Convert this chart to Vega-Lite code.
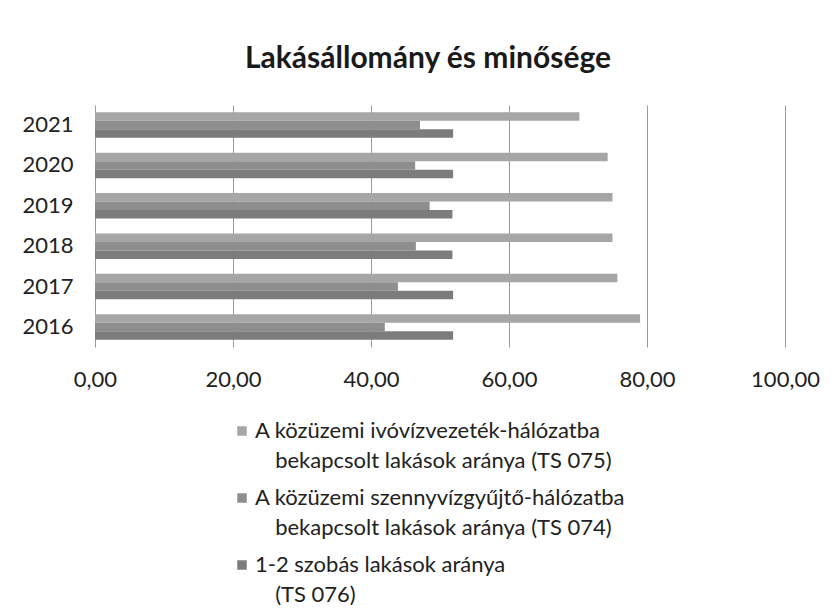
{
  "$schema": "https://vega.github.io/schema/vega-lite/v6.json",
  "autosize": "none",
  "width": 690,
  "height": 242,
  "padding": {"left": 95, "top": 105, "right": 50, "bottom": 266},
  "background": "white",
  "title": {
    "text": "Lakásállomány és minősége",
    "font": "Lato",
    "fontSize": 30,
    "fontWeight": "bold",
    "color": "#1a1a1a",
    "anchor": "middle",
    "dx": -12,
    "offset": 31
  },
  "data": {
    "values": [
      {"year": "2021", "series": "A közüzemi ivóvízvezeték-hálózatba bekapcsolt lakások aránya (TS 075)", "value": 70.2},
      {"year": "2021", "series": "A közüzemi szennyvízgyűjtő-hálózatba bekapcsolt lakások aránya (TS 074)", "value": 47.1},
      {"year": "2021", "series": "1-2 szobás lakások aránya (TS 076)", "value": 51.9},
      {"year": "2020", "series": "A közüzemi ivóvízvezeték-hálózatba bekapcsolt lakások aránya (TS 075)", "value": 74.3},
      {"year": "2020", "series": "A közüzemi szennyvízgyűjtő-hálózatba bekapcsolt lakások aránya (TS 074)", "value": 46.4},
      {"year": "2020", "series": "1-2 szobás lakások aránya (TS 076)", "value": 51.9},
      {"year": "2019", "series": "A közüzemi ivóvízvezeték-hálózatba bekapcsolt lakások aránya (TS 075)", "value": 75.0},
      {"year": "2019", "series": "A közüzemi szennyvízgyűjtő-hálózatba bekapcsolt lakások aránya (TS 074)", "value": 48.5},
      {"year": "2019", "series": "1-2 szobás lakások aránya (TS 076)", "value": 51.8},
      {"year": "2018", "series": "A közüzemi ivóvízvezeték-hálózatba bekapcsolt lakások aránya (TS 075)", "value": 75.0},
      {"year": "2018", "series": "A közüzemi szennyvízgyűjtő-hálózatba bekapcsolt lakások aránya (TS 074)", "value": 46.5},
      {"year": "2018", "series": "1-2 szobás lakások aránya (TS 076)", "value": 51.8},
      {"year": "2017", "series": "A közüzemi ivóvízvezeték-hálózatba bekapcsolt lakások aránya (TS 075)", "value": 75.7},
      {"year": "2017", "series": "A közüzemi szennyvízgyűjtő-hálózatba bekapcsolt lakások aránya (TS 074)", "value": 43.9},
      {"year": "2017", "series": "1-2 szobás lakások aránya (TS 076)", "value": 51.9},
      {"year": "2016", "series": "A közüzemi ivóvízvezeték-hálózatba bekapcsolt lakások aránya (TS 075)", "value": 79.0},
      {"year": "2016", "series": "A közüzemi szennyvízgyűjtő-hálózatba bekapcsolt lakások aránya (TS 074)", "value": 42.0},
      {"year": "2016", "series": "1-2 szobás lakások aránya (TS 076)", "value": 51.9}
    ]
  },
  "mark": {"type": "bar"},
  "encoding": {
    "y": {
      "field": "year",
      "type": "nominal",
      "sort": "descending",
      "scale": {"paddingInner": 0.37, "paddingOuter": 0.18},
      "axis": {
        "title": null,
        "domain": false,
        "ticks": false,
        "labelFont": "Lato",
        "labelFontSize": 22,
        "labelColor": "#222222",
        "labelPadding": 22
      }
    },
    "yOffset": {
      "field": "series",
      "type": "nominal",
      "sort": [
        "A közüzemi ivóvízvezeték-hálózatba bekapcsolt lakások aránya (TS 075)",
        "A közüzemi szennyvízgyűjtő-hálózatba bekapcsolt lakások aránya (TS 074)",
        "1-2 szobás lakások aránya (TS 076)"
      ],
      "scale": {"paddingInner": 0, "paddingOuter": 0}
    },
    "x": {
      "field": "value",
      "type": "quantitative",
      "scale": {"domain": [0, 100]},
      "axis": {
        "title": null,
        "values": [0, 20, 40, 60, 80, 100],
        "labelExpr": "replace(format(datum.value, '.2f'), '.', ',')",
        "labelFont": "Lato",
        "labelFontSize": 22,
        "labelColor": "#222222",
        "labelPadding": 22,
        "labelFlush": false,
        "labelOverlap": false,
        "domain": false,
        "ticks": false,
        "grid": true,
        "gridColor": "#9a9a9a",
        "gridWidth": 1
      }
    },
    "color": {
      "field": "series",
      "type": "nominal",
      "sort": [
        "A közüzemi ivóvízvezeték-hálózatba bekapcsolt lakások aránya (TS 075)",
        "A közüzemi szennyvízgyűjtő-hálózatba bekapcsolt lakások aránya (TS 074)",
        "1-2 szobás lakások aránya (TS 076)"
      ],
      "scale": {"range": ["#a6a6a6", "#8e8e8e", "#7c7c7c"]},
      "legend": {
        "title": null,
        "orient": "none",
        "legendX": 136,
        "legendY": 315,
        "direction": "vertical",
        "symbolType": "square",
        "symbolSize": 90,
        "symbolStrokeWidth": 0,
        "labelFont": "Lato",
        "labelFontSize": 22,
        "labelColor": "#222222",
        "labelLimit": 600,
        "labelOffset": 2,
        "rowPadding": 15,
        "labelExpr": "indexof(datum.label, 'ivóvíz') >= 0 ? ['A közüzemi ivóvízvezeték-hálózatba', '\\u200b\\u2002\\u2005\\u2006bekapcsolt lakások aránya (TS 075)'] : indexof(datum.label, 'szenny') >= 0 ? ['A közüzemi szennyvízgyűjtő-hálózatba', '\\u200b\\u2002\\u2005\\u2006bekapcsolt lakások aránya (TS 074)'] : ['1-2 szobás lakások aránya', '\\u200b\\u2002\\u2005\\u2006(TS 076)']"
      }
    }
  },
  "config": {
    "view": {"stroke": null},
    "style": {"guide-label": {"lineHeight": 30}}
  }
}
